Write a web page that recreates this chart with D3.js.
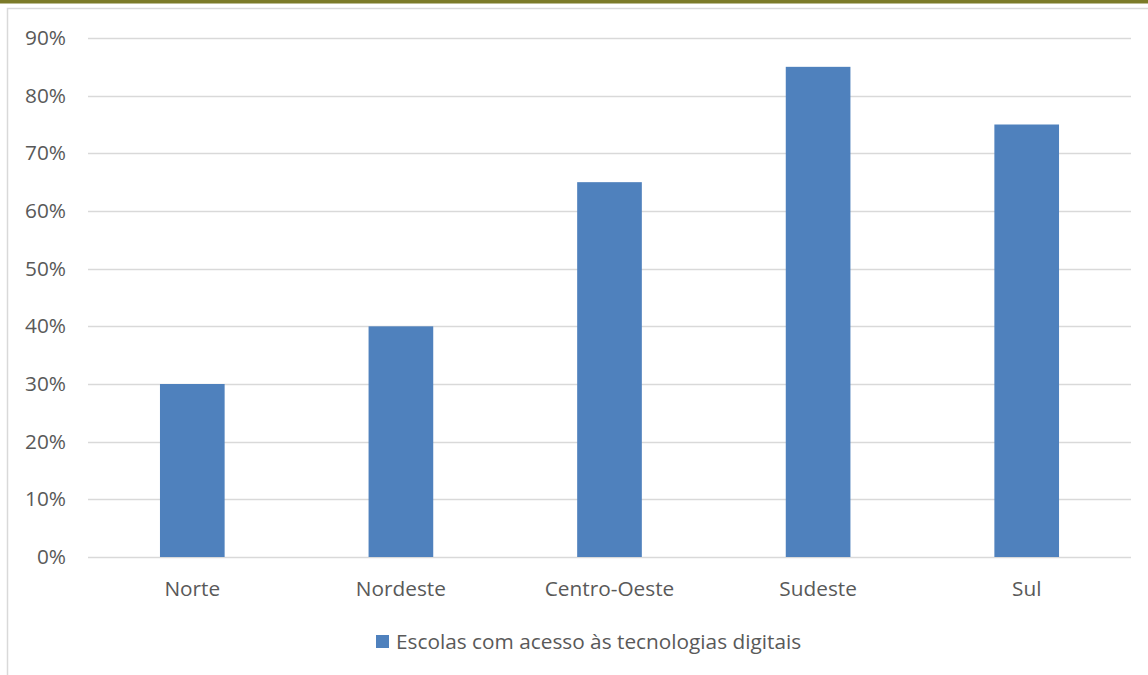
<!DOCTYPE html>
<html><head><meta charset="utf-8">
<script src="https://cdn.jsdelivr.net/npm/d3@7"></script>
<style>html,body{margin:0;padding:0;background:#fff;overflow:hidden}</style>
</head><body>
<svg id="c" width="1148" height="675"></svg>
<script>
const categories = ["Norte", "Nordeste", "Centro-Oeste", "Sudeste", "Sul"];
const values = [0.30, 0.40, 0.65, 0.85, 0.75];
const tickValues = [0, 0.1, 0.2, 0.3, 0.4, 0.5, 0.6, 0.7, 0.8, 0.9];
const seriesName = "Escolas com acesso às tecnologias digitais";

const svg = d3.select("#c");
const font = "'Open Sans', sans-serif";
const textColor = "#595959";
const fs = 20.8;

svg.append("rect").attr("x", 0).attr("y", 0).attr("width", 1148).attr("height", 3.5).attr("fill", "#7B7A28");
svg.append("rect").attr("x", 7.5).attr("y", 8.5).attr("width", 1160).attr("height", 700)
  .attr("fill", "none").attr("stroke", "#d9d9d9").attr("stroke-width", 1.5);

const pLeft = 88, pRight = 1131, pTop = 38, pBottom = 557;
const x = d3.scaleBand().domain(categories).range([pLeft, pRight]).paddingInner(0.69).paddingOuter(0.345);
const y = d3.scaleLinear().domain([0, 0.9]).range([pBottom, pTop]);

const grid = svg.append("g");
grid.selectAll("line").data(tickValues).join("line")
  .attr("x1", pLeft).attr("x2", pRight)
  .attr("y1", d => Math.round(y(d)) + 0.5).attr("y2", d => Math.round(y(d)) + 0.5)
  .attr("stroke", "#d9d9d9").attr("stroke-width", 1.5);

svg.append("g").selectAll("rect").data(values).join("rect")
  .attr("x", (d, i) => x(categories[i])).attr("width", x.bandwidth())
  .attr("y", d => y(d)).attr("height", d => y(0) - y(d))
  .attr("fill", "#4F81BD");

const yAxis = svg.append("g").attr("transform", `translate(${pLeft},0)`)
  .call(d3.axisLeft(y).tickValues(tickValues).tickFormat(d3.format(".0%")).tickSize(0).tickPadding(22));
yAxis.select(".domain").remove();
yAxis.selectAll("text").attr("font-family", font).attr("font-size", fs).attr("fill", textColor);

const xAxis = svg.append("g").attr("transform", `translate(0,${pBottom})`)
  .call(d3.axisBottom(x).tickSize(0).tickPadding(24));
xAxis.select(".domain").remove();
xAxis.selectAll("text").attr("font-family", font).attr("font-size", fs).attr("fill", textColor);

const lg = svg.append("g").attr("transform", "translate(376,635)");
lg.append("rect").attr("width", 13).attr("height", 13).attr("fill", "#4F81BD");
lg.append("text").attr("x", 20).attr("y", 6.5).attr("dy", "0.35em")
  .attr("font-family", font).attr("font-size", fs).attr("fill", textColor).text(seriesName);
</script>
</body></html>
